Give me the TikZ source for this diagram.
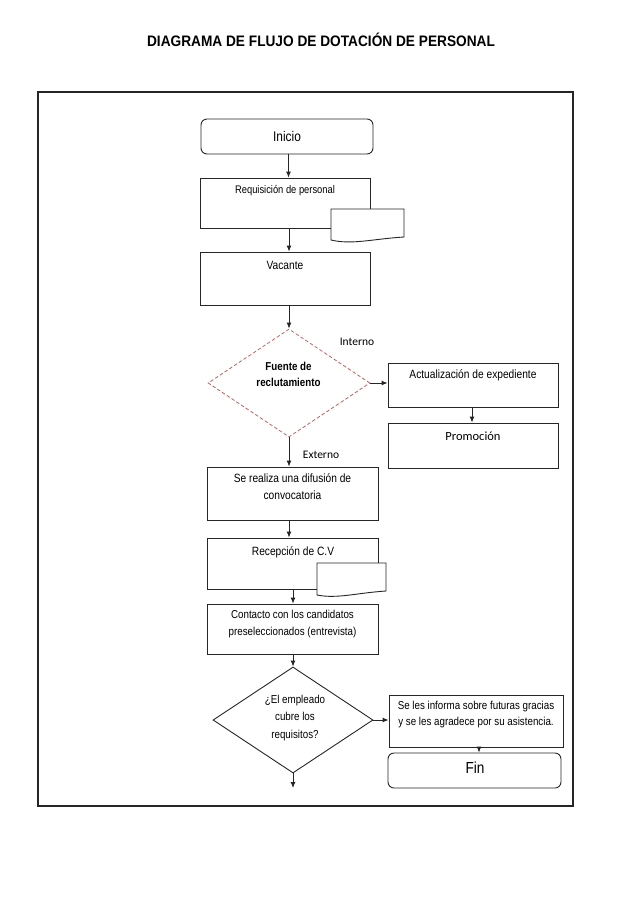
\documentclass[tikz,border=0pt]{standalone}
\usepackage{fontspec}
\setmainfont{Liberation Sans}
\newfontfamily\nar[FakeStretch=0.85]{Liberation Sans}
\newfontfamily\titlef[FakeStretch=0.9]{Liberation Sans}
\newfontfamily\calf{Carlito}
\usetikzlibrary{shapes.geometric,arrows.meta}
\definecolor{dred}{RGB}{196,100,96}
\tikzset{
  box/.style={draw=black!85, line width=0.9pt, rectangle, inner sep=0pt},
  rbox/.style={box, rounded corners=6pt},
  arr/.style={draw=black!85, line width=0.9pt, -{Latex[length=6pt,width=5pt]}},
  txt/.style={font=\nar\fontsize{11.5}{16.5}\selectfont, align=center, inner sep=0pt},
  ctxt/.style={font=\calf\fontsize{11.5}{14}\selectfont, inner sep=0pt},
  docshape/.style={draw=black!85, line width=0.9pt, fill=white}
}
\begin{document}
\begin{tikzpicture}[x=1pt,y=-1pt]
\useasboundingbox (0,0) rectangle (638,903);
% title
\node[font=\titlef\bfseries\fontsize{15.2}{18}\selectfont, inner sep=0pt] (title) at (321,40) {DIAGRAMA DE FLUJO DE DOTACIÓN DE PERSONAL};
% frame
\draw[line width=2.6pt, black!85] (38,92) rectangle (573,806);

% Inicio
\node[rbox, minimum width=172, minimum height=35, font=\nar\fontsize{14}{16}\selectfont] (inicio) at (287,136.5) {Inicio};
% Requisicion
\node[box, minimum width=170, minimum height=50] (req) at (285,203) {};
\node[txt, font=\nar\fontsize{11}{14}\selectfont] (reqt) at (285,191) {Requisición de personal};
\draw[docshape] (331,209) -- (404,209) -- (404,237) .. controls (372,239) and (352,245) .. (331,240) -- cycle;
% Vacante
\node[box, minimum width=170, minimum height=53] (vac) at (285,278.5) {};
\node[txt, font=\nar\fontsize{12}{14}\selectfont] (vact) at (285,265) {Vacante};

% Fuente de reclutamiento
\node[diamond, draw=dred, dash pattern=on 3.5pt off 2.2pt, line width=0.8pt, minimum width=162, minimum height=108, inner sep=0pt] (fuente) at (289,383) {};
\node[txt, font=\nar\bfseries\fontsize{11.5}{16}\selectfont] (fuentet) at (288.5,374) {Fuente de\\reclutamiento};
\node[ctxt] (interno) at (357,342) {Interno};
\node[ctxt] (externo) at (321,455) {Externo};

% Actualizacion / Promocion
\node[box, minimum width=170, minimum height=44] (act) at (473,385) {};
\node[txt, font=\nar\fontsize{12}{14}\selectfont] (actt) at (473,375) {Actualización de expediente};
\node[box, minimum width=170, minimum height=45] (prom) at (473,445.5) {};
\node[ctxt, font=\calf\fontsize{12.5}{14}\selectfont] (promt) at (473,436) {Promoción};

% Difusion
\node[box, minimum width=171, minimum height=53] (dif) at (292.5,493.5) {};
\node[txt, font=\nar\fontsize{12}{17}\selectfont] (dift) at (292.5,486.5) {Se realiza una difusión de\\convocatoria};
% Recepcion
\node[box, minimum width=171, minimum height=51] (rec) at (292.5,563.5) {};
\node[txt, font=\nar\fontsize{12}{14}\selectfont] (rect) at (293,552) {Recepción de C.V};
\draw[docshape] (317,563) -- (386,563) -- (386,591) .. controls (356,593) and (337,599) .. (317,595) -- cycle;
% Contacto
\node[box, minimum width=171, minimum height=50] (cont) at (292.5,629) {};
\node[txt, font=\nar\fontsize{11.5}{17}\selectfont] (contt) at (292.5,624.5) {Contacto con los candidatos\\preseleccionados (entrevista)};

% Decision
\node[diamond, draw=black!85, line width=0.9pt, minimum width=160, minimum height=106, inner sep=0pt] (dec) at (293,720) {};
\node[txt, font=\nar\fontsize{11.5}{17.5}\selectfont] (dect) at (295,718) {¿El empleado\\cubre los\\requisitos?};
% Informa
\node[box, minimum width=174, minimum height=52] (inf) at (476,721) {};
\node[txt, font=\nar\fontsize{11.5}{16}\selectfont] (inft) at (476,715) {Se les informa sobre futuras gracias\\y se les agradece por su asistencia.};
% Fin
\node[rbox, minimum width=173, minimum height=35] (fin) at (474.5,770.5) {};
\node[txt, font=\nar\fontsize{16}{18}\selectfont] (fint) at (475,768) {Fin};
\coordinate (endp) at (293,788);

% connectors
\draw[arr] ([xshift=1.5pt]inicio.south) -- ([xshift=3.5pt]req.north);
\draw[arr] ([xshift=4pt]req.south) -- ([xshift=4pt]vac.north);
\draw[arr] ([xshift=4pt]vac.south) -- (fuente.north);
\draw[arr] (fuente.east) -- (fuente.east -| act.west);
\draw[arr] ([xshift=-1pt]act.south) -- ([xshift=-1pt]prom.north);
\draw[arr] (fuente.south) -- (fuente.south |- dif.north);
\draw[arr] ([xshift=-3.5pt]dif.south) -- ([xshift=-3.5pt]rec.north);
\draw[arr] ([xshift=0.5pt]rec.south) -- ([xshift=0.5pt]cont.north);
\draw[arr] ([xshift=0.5pt]cont.south) -- (dec.north);
\draw[arr] (dec.east) -- (dec.east -| inf.west);
\draw[arr] ([xshift=3pt]inf.south) -- ([xshift=4.5pt]fin.north);
\draw[arr] (dec.south) -- (endp);
\end{tikzpicture}
\end{document}
